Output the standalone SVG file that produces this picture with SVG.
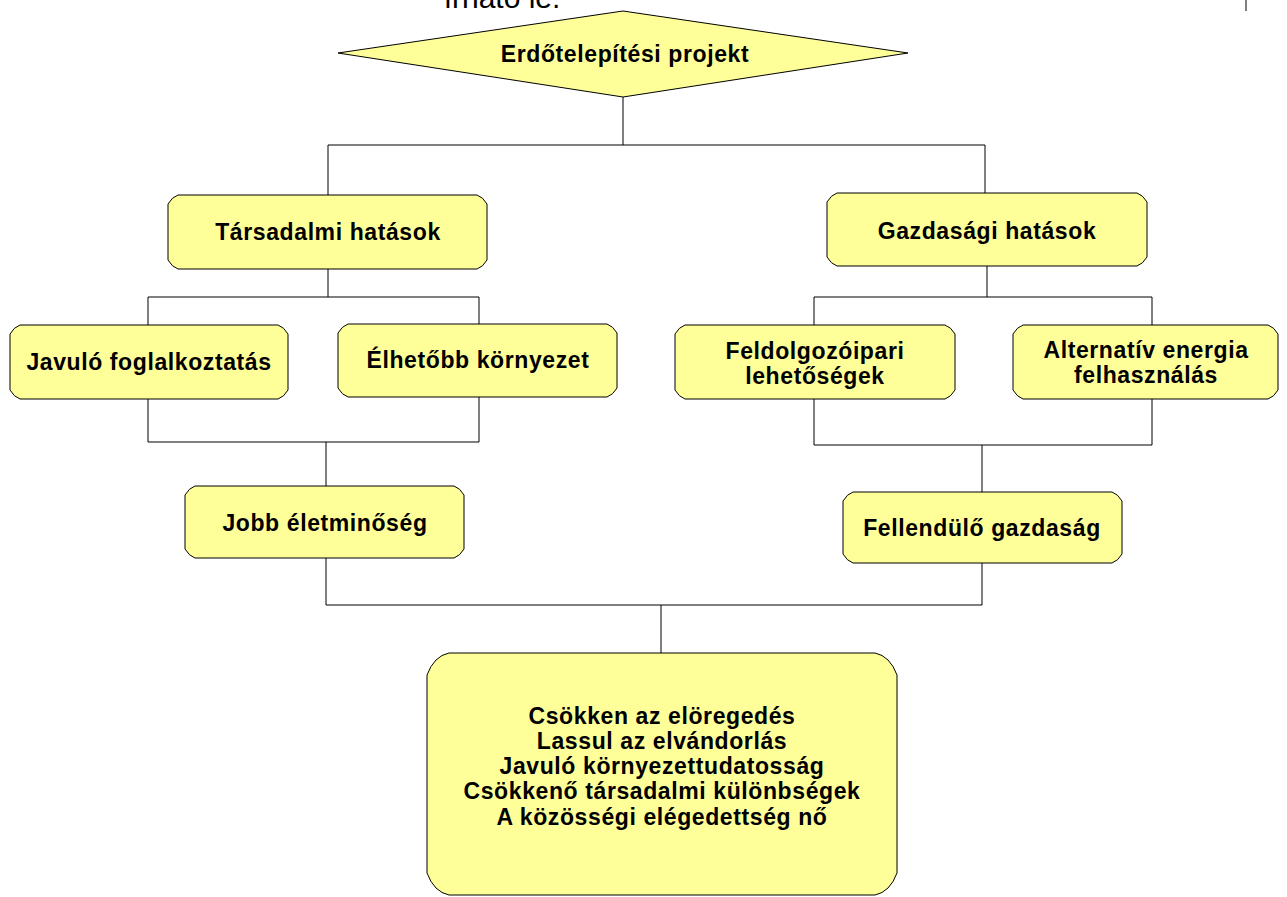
<svg xmlns="http://www.w3.org/2000/svg" width="1287" height="897" viewBox="0 0 1287 897">
<style>
.box{fill:#FFFF99;stroke:#000;stroke-width:1}
.t{font-family:"Liberation Sans",Arial,sans-serif;font-weight:bold;font-size:23px;fill:#000;text-anchor:middle;letter-spacing:0.6px}
.c{fill:none;stroke:#000;stroke-width:1}
</style>
<rect width="1287" height="897" fill="#fff"/>
<text x="502" y="8" font-family="'Liberation Sans',Arial,sans-serif" font-size="30" text-anchor="middle" fill="#000">írható le.</text>
<line x1="1246" y1="0" x2="1246" y2="11" stroke="#000" stroke-width="1"/>
<g id="connectors">
<path class="c" d="M623,97 V145 M328,145 H985 M328,145 V195 M985,145 V193"/>
<path class="c" d="M328,269 V297 M148,297 H479 M148,297 V325 M479,297 V324"/>
<path class="c" d="M148,399 V442 M479,397 V442 M148,442 H479 M326,442 V486"/>
<path class="c" d="M987,266 V297 M814,297 H1152 M814,297 V325 M1152,297 V325"/>
<path class="c" d="M814,399 V445 M1152,399 V445 M814,445 H1152 M982,445 V492"/>
<path class="c" d="M326,558 V605 M982,563 V605 M326,605 H982 M661,605 V653"/>
</g>
<g id="n-projekt">
<polygon class="box" points="623,11 908,53 623,97 338,53"/>
<text class="t" x="625" y="62">Erdőtelepítési projekt</text>
</g>
<g id="n-tarsadalmi">
<path class="box" d="M178,195 H477 Q483,197 487,204 V260 Q483,267 477,269 H178 Q172,267 168,260 V204 Q172,197 178,195 Z"/>
<text class="t" x="328" y="240">Társadalmi hatások</text>
</g>
<g id="n-gazdasagi">
<path class="box" d="M837,193 H1137 Q1143,195 1147,202 V257 Q1143,264 1137,266 H837 Q831,264 827,257 V202 Q831,195 837,193 Z"/>
<text class="t" x="987" y="239">Gazdasági hatások</text>
</g>
<g id="n-javulo">
<path class="box" d="M20,325 H278 Q284,327 288,334 V390 Q284,397 278,399 H20 Q14,397 10,390 V334 Q14,327 20,325 Z"/>
<text class="t" x="149" y="370">Javuló foglalkoztatás</text>
</g>
<g id="n-elhetobb">
<path class="box" d="M348,324 H607 Q613,326 617,333 V388 Q613,395 607,397 H348 Q342,395 338,388 V333 Q342,326 348,324 Z"/>
<text class="t" x="478" y="368">Élhetőbb környezet</text>
</g>
<g id="n-feldolgozo">
<path class="box" d="M685,325 H945 Q951,327 955,334 V390 Q951,397 945,399 H685 Q679,397 675,390 V334 Q679,327 685,325 Z"/>
<text class="t" x="815" y="359">Feldolgozóipari</text>
<text class="t" x="815" y="384">lehetőségek</text>
</g>
<g id="n-alternativ">
<path class="box" d="M1023,325 H1268 Q1274,327 1278,334 V390 Q1274,397 1268,399 H1023 Q1017,397 1013,390 V334 Q1017,327 1023,325 Z"/>
<text class="t" x="1146" y="358">Alternatív energia</text>
<text class="t" x="1146" y="383">felhasználás</text>
</g>
<g id="n-jobb">
<path class="box" d="M195,486 H454 Q460,488 464,495 V549 Q460,556 454,558 H195 Q189,556 185,549 V495 Q189,488 195,486 Z"/>
<text class="t" x="325" y="531">Jobb életminőség</text>
</g>
<g id="n-fellendulo">
<path class="box" d="M853,492 H1112 Q1118,494 1122,501 V554 Q1118,561 1112,563 H853 Q847,561 843,554 V501 Q847,494 853,492 Z"/>
<text class="t" x="982" y="536">Fellendülő gazdaság</text>
</g>
<g id="n-eredmeny">
<path class="box" d="M449,653 H875 Q890,656 897,675 V873 Q890,892 875,895 H449 Q434,892 427,873 V675 Q434,656 449,653 Z"/>
<text class="t" x="662" y="724">Csökken az elöregedés</text>
<text class="t" x="662" y="749">Lassul az elvándorlás</text>
<text class="t" x="662" y="774">Javuló környezettudatosság</text>
<text class="t" x="662" y="799">Csökkenő társadalmi különbségek</text>
<text class="t" x="662" y="825">A közösségi elégedettség nő</text>
</g>
</svg>
